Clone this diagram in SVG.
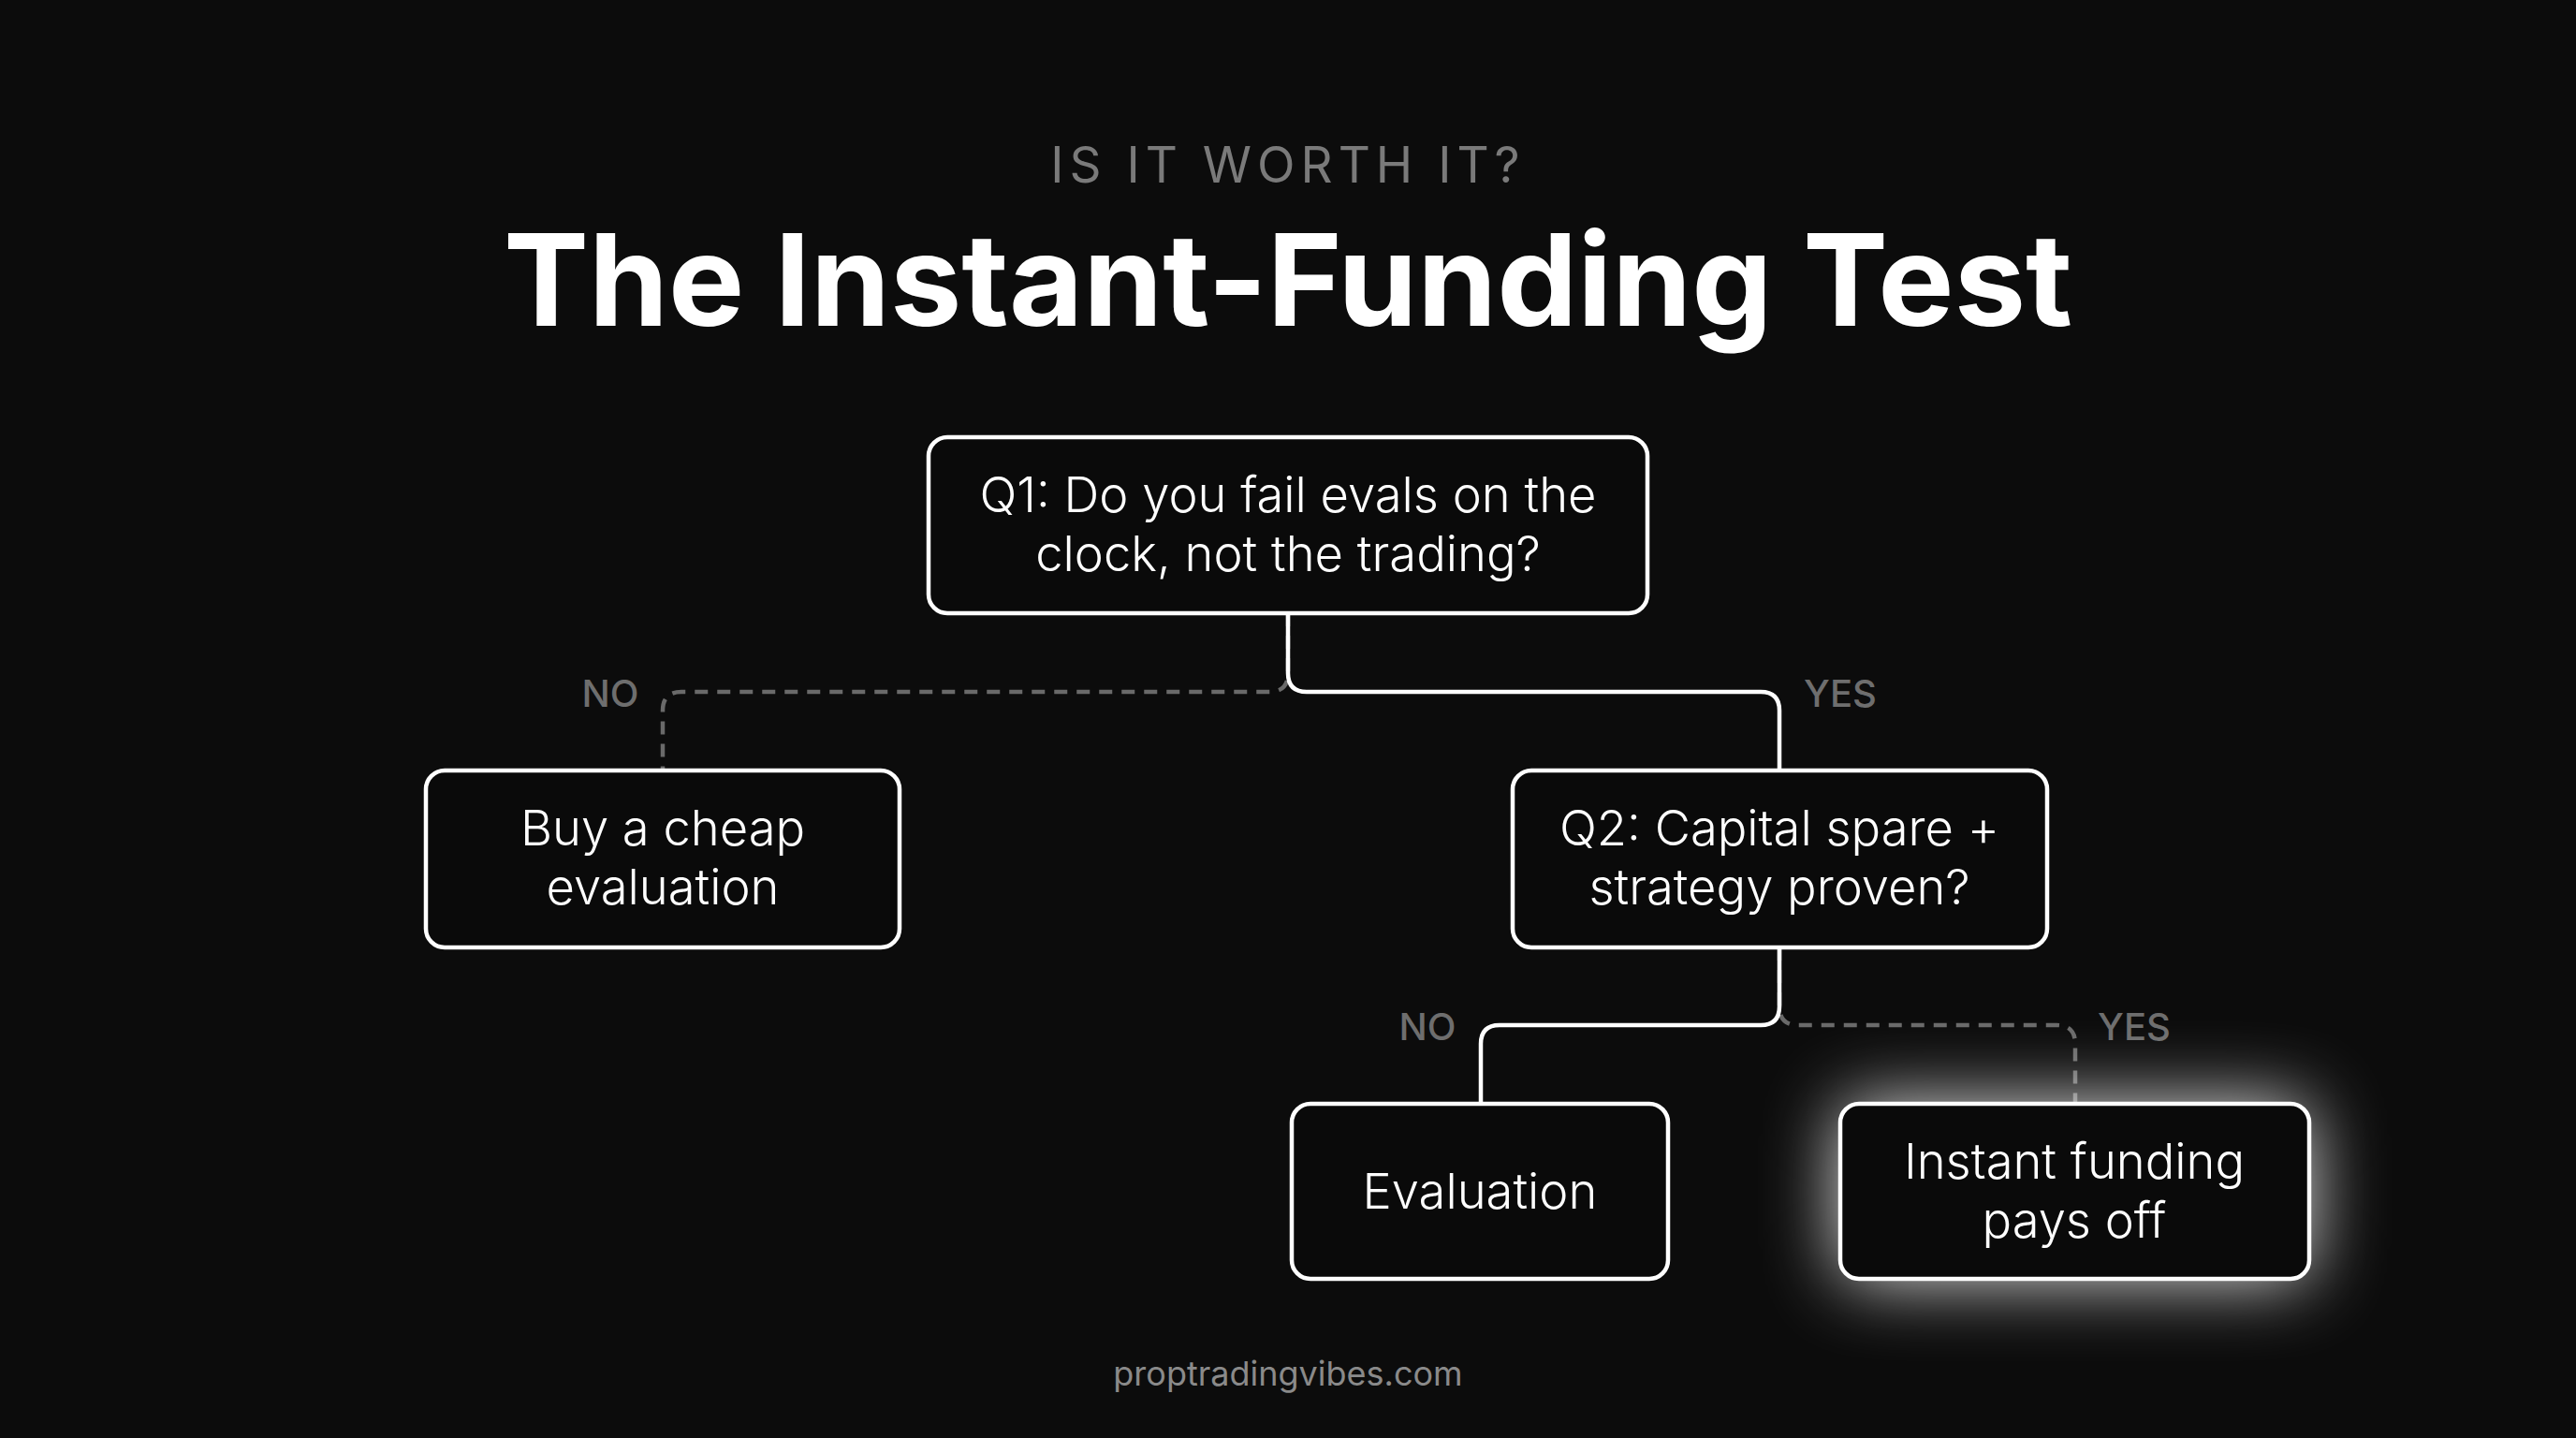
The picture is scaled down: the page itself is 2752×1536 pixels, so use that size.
<svg xmlns="http://www.w3.org/2000/svg" width="2752" height="1536" viewBox="0 0 2752 1536">
<defs>
<style>
.node{fill:#0a0a0a;stroke:#ffffff;stroke-width:4.5}
.nt{font-family:Inter,"Noto Sans","Liberation Sans",sans-serif;font-size:52.5px;font-weight:300;fill:#ffffff;text-anchor:middle}
.lbl{font-family:Inter,"Noto Sans","Liberation Sans",sans-serif;font-size:40px;font-weight:500;fill:#6e6e6e;text-anchor:middle}
.solid{fill:none;stroke:#ffffff;stroke-width:4.5}
.dash{fill:none;stroke:#6a6a6a;stroke-width:4.5;stroke-dasharray:14 10}
</style>
<filter id="glow" x="-60%" y="-80%" width="220%" height="260%">
<feGaussianBlur stdDeviation="40"/>
</filter>
</defs>
<rect width="2752" height="1536" fill="#0c0c0c"/>
<text x="1376" y="195" font-family="Inter,'Noto Sans','Liberation Sans',sans-serif" font-size="53" letter-spacing="6" fill="#7a7a7a" text-anchor="middle">IS IT WORTH IT?</text>
<text x="1376" y="348" font-family="Inter,'Noto Sans','Liberation Sans',sans-serif" font-size="136.5" font-weight="700" fill="#ffffff" text-anchor="middle">The Instant-Funding Test</text>
<g id="connectors">
<path class="dash" d="M1376 655 V719 Q1376 739 1356 739 H728 Q708 739 708 759 V823"/>
<path class="solid" d="M1376 655 V719 Q1376 739 1396 739 H1881 Q1901 739 1901 759 V823"/>
<path class="dash" d="M1901 1012 V1075 Q1901 1095 1921 1095 H2197 Q2217 1095 2217 1115 V1178"/>
<path class="solid" d="M1901 1012 V1075 Q1901 1095 1881 1095 H1602 Q1582 1095 1582 1115 V1178"/>
<text class="lbl" x="652" y="755">NO</text>
<text class="lbl" x="1966" y="755">YES</text>
<text class="lbl" x="1525" y="1111">NO</text>
<text class="lbl" x="2280" y="1111">YES</text>
</g>
<g id="q1">
<rect class="node" x="992" y="467" width="768" height="188" rx="20"/>
<text class="nt" x="1376" y="547">Q1: Do you fail evals on the</text>
<text class="nt" x="1376" y="610">clock, not the trading?</text>
</g>
<g id="buy">
<rect class="node" x="455" y="823" width="506" height="189" rx="20"/>
<text class="nt" x="708" y="903">Buy a cheap</text>
<text class="nt" x="708" y="966">evaluation</text>
</g>
<g id="q2">
<rect class="node" x="1616" y="823" width="571" height="189" rx="20"/>
<text class="nt" x="1901" y="903">Q2: Capital spare +</text>
<text class="nt" x="1901" y="966">strategy proven?</text>
</g>
<g id="evaluation">
<rect class="node" x="1380" y="1179" width="402" height="187" rx="20"/>
<text class="nt" x="1581" y="1291">Evaluation</text>
</g>
<g id="instant">
<rect x="1966" y="1179" width="501" height="187" rx="20" fill="#ffffff" opacity="0.9" filter="url(#glow)"/>
<rect class="node" x="1966" y="1179" width="501" height="187" rx="20"/>
<text class="nt" x="2216" y="1259">Instant funding</text>
<text class="nt" x="2216" y="1322">pays off</text>
</g>
<text x="1376" y="1480" font-family="Inter,'Noto Sans','Liberation Sans',sans-serif" font-size="36" fill="#8a8a8a" text-anchor="middle">proptradingvibes.com</text>
</svg>
